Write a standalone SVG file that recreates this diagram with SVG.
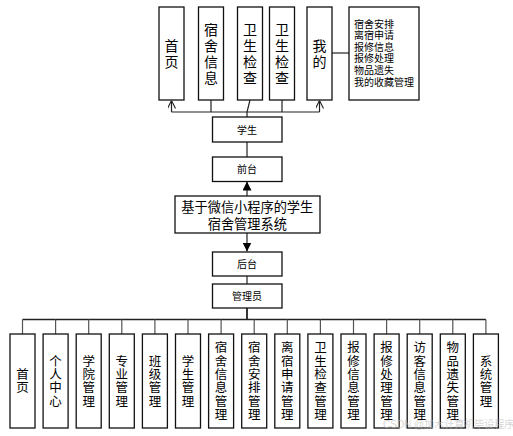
<svg xmlns="http://www.w3.org/2000/svg" width="513" height="436" viewBox="0 0 513 436">
<style>
.box{fill:#fff;stroke:#111;stroke-width:1.3}
.ln{fill:none;stroke:#222;stroke-width:1.2}
.t{font-family:"Liberation Sans","Noto Sans CJK SC",sans-serif;fill:#000}
.vt{font-family:"Noto Sans CJK SC","Liberation Sans",sans-serif;fill:#000;writing-mode:vertical-rl;text-anchor:middle}
.v14{font-size:14px;letter-spacing:2px}
.v12{font-size:12.5px;letter-spacing:0.8px}
.s10{font-size:10px;text-anchor:middle}
.l10{font-size:10px}
.m13{font-size:13.2px;text-anchor:middle}
.wm{font-family:"Liberation Sans","Noto Sans CJK SC",sans-serif;font-size:10px;fill:#bbb;opacity:0.6}
</style>
<defs>
<marker id="open" viewBox="0 0 10 10" refX="10" refY="5" markerWidth="8" markerHeight="8" orient="auto" markerUnits="userSpaceOnUse">
<path d="M0,0 L10,5 L0,10" fill="none" stroke="#222" stroke-width="1.4"/>
</marker>
<marker id="fill" viewBox="0 0 10 10" refX="10" refY="5" markerWidth="9" markerHeight="9" orient="auto" markerUnits="userSpaceOnUse">
<path d="M0,0 L10,5 L0,10 z" fill="#000"/>
</marker>
</defs>
<rect width="513" height="436" fill="#fff"/>

<g id="connectors">
<path class="ln" d="M171.5,112 H319.5"/>
<path class="ln" d="M171.5,112 V100.5" marker-end="url(#open)"/>
<path class="ln" d="M319.5,112 V100.5" marker-end="url(#open)"/>
<path class="ln" d="M211,100 V112"/>
<path class="ln" d="M282,100 V112"/>
<path class="ln" d="M250,100 L247,112 V117"/>
<path class="ln" d="M332,53 H349"/>
<path class="ln" d="M247,142 V157"/>
<path class="ln" d="M247,196 V181.5" marker-end="url(#fill)"/>
<path class="ln" d="M247,233 V251.5" marker-end="url(#fill)"/>
<path class="ln" d="M247,276 V284"/>
<path class="ln" d="M247,308 V319.5" style="stroke-width:1.8"/>
<path class="ln" d="M22.5,319.5 H485.9" style="stroke-width:1.6"/>
<path class="ln" style="stroke:#555" d="M22.5,319.5V334 M55.6,319.5V334 M88.7,319.5V334 M121.8,319.5V334 M154.9,319.5V334 M188,319.5V334 M221.1,319.5V334 M254.2,319.5V334 M287.3,319.5V334 M320.4,319.5V334 M353.5,319.5V334 M386.6,319.5V334 M419.7,319.5V334 M452.8,319.5V334 M485.9,319.5V334"/>
</g>

<g id="top-shouye"><rect class="box" x="159" y="7" width="25" height="93"/><text class="vt v14" x="171.5" y="54.5">首页</text></g>
<g id="top-sushexinxi"><rect class="box" x="198.5" y="7" width="25" height="93"/><text class="vt v14" x="211" y="54.5">宿舍信息</text></g>
<g id="top-weisheng1"><rect class="box" x="237.5" y="7" width="25" height="93"/><text class="vt v14" x="250" y="54.5">卫生检查</text></g>
<g id="top-weisheng2"><rect class="box" x="269.5" y="7" width="25" height="93"/><text class="vt v14" x="282" y="54.5">卫生检查</text></g>
<g id="top-wode"><rect class="box" x="307" y="7" width="25" height="93"/><text class="vt v14" x="319.5" y="54.5">我的</text></g>
<g id="top-list"><rect class="box" x="349" y="7" width="70" height="93"/>
<text class="t l10"><tspan x="354" y="27.5">宿舍安排</tspan><tspan x="354" y="39">离宿申请</tspan><tspan x="354" y="50.7">报修信息</tspan><tspan x="354" y="62.3">报修处理</tspan><tspan x="354" y="74">物品遗失</tspan><tspan x="354" y="85.6">我的收藏管理</tspan></text></g>

<g id="xuesheng"><rect class="box" x="212.5" y="117" width="69.5" height="25"/><text class="t s10" x="247" y="134">学生</text></g>
<g id="qiantai"><rect class="box" x="212.5" y="157" width="69.5" height="24.5"/><text class="t s10" x="247" y="173">前台</text></g>
<g id="main"><rect class="box" x="175" y="196" width="145" height="37"/>
<text class="t m13"><tspan x="247.3" y="212">基于微信小程序的学生</tspan><tspan x="247.3" y="228.7">宿舍管理系统</tspan></text></g>
<g id="houtai"><rect class="box" x="212.5" y="252" width="69.5" height="24"/><text class="t s10" x="247" y="268">后台</text></g>
<g id="guanliyuan"><rect class="box" x="212.5" y="284" width="69.5" height="24"/><text class="t s10" x="247" y="300">管理员</text></g>

<g id="b0"><rect class="box" x="10" y="334" width="25" height="94"/><text class="vt v12" x="22.5" y="381.4">首页</text></g>
<g id="b1"><rect class="box" x="43.1" y="334" width="25" height="94"/><text class="vt v12" x="55.6" y="381.4">个人中心</text></g>
<g id="b2"><rect class="box" x="76.2" y="334" width="25" height="94"/><text class="vt v12" x="88.7" y="381.4">学院管理</text></g>
<g id="b3"><rect class="box" x="109.3" y="334" width="25" height="94"/><text class="vt v12" x="121.8" y="381.4">专业管理</text></g>
<g id="b4"><rect class="box" x="142.4" y="334" width="25" height="94"/><text class="vt v12" x="154.9" y="381.4">班级管理</text></g>
<g id="b5"><rect class="box" x="175.5" y="334" width="25" height="94"/><text class="vt v12" x="188" y="381.4">学生管理</text></g>
<g id="b6"><rect class="box" x="208.6" y="334" width="25" height="94"/><text class="vt v12" x="221.1" y="381.4">宿舍信息管理</text></g>
<g id="b7"><rect class="box" x="241.7" y="334" width="25" height="94"/><text class="vt v12" x="254.2" y="381.4">宿舍安排管理</text></g>
<g id="b8"><rect class="box" x="274.8" y="334" width="25" height="94"/><text class="vt v12" x="287.3" y="381.4">离宿申请管理</text></g>
<g id="b9"><rect class="box" x="307.9" y="334" width="25" height="94"/><text class="vt v12" x="320.4" y="381.4">卫生检查管理</text></g>
<g id="b10"><rect class="box" x="341" y="334" width="25" height="94"/><text class="vt v12" x="353.5" y="381.4">报修信息管理</text></g>
<g id="b11"><rect class="box" x="374.1" y="334" width="25" height="94"/><text class="vt v12" x="386.6" y="381.4">报修处理管理</text></g>
<g id="b12"><rect class="box" x="407.2" y="334" width="25" height="94"/><text class="vt v12" x="419.7" y="381.4">访客信息管理</text></g>
<g id="b13"><rect class="box" x="440.3" y="334" width="25" height="94"/><text class="vt v12" x="452.8" y="381.4">物品遗失管理</text></g>
<g id="b14"><rect class="box" x="473.4" y="334" width="25" height="94"/><text class="vt v12" x="485.9" y="381.4">系统管理</text></g>

<text class="wm" x="383" y="428">CSDN @加木计算机毕设程序</text>
</svg>
